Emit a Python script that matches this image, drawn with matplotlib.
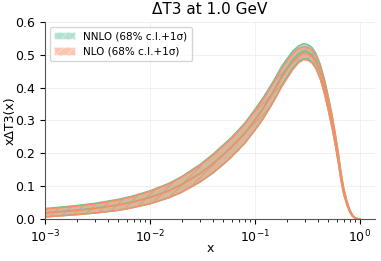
import numpy as np
import matplotlib
matplotlib.use("Agg")
import matplotlib.pyplot as plt
from matplotlib.patches import Patch

x = [0.001, 0.002, 0.003, 0.005, 0.007, 0.01, 0.015, 0.02, 0.03, 0.04, 0.05, 0.06, 0.08,
     0.1, 0.12, 0.15, 0.18, 0.2, 0.23, 0.26, 0.29, 0.32, 0.35, 0.38, 0.42, 0.46, 0.5,
     0.54, 0.58, 0.62, 0.66, 0.7, 0.75, 0.8, 0.85, 0.9, 0.95, 1.0]
nlo_c = [0.018, 0.026, 0.032, 0.042, 0.052, 0.065, 0.085, 0.104, 0.138, 0.168, 0.195, 0.218, 0.26,
         0.300, 0.335, 0.385, 0.43, 0.452, 0.48, 0.497, 0.505, 0.503, 0.495, 0.478, 0.445, 0.40, 0.35,
         0.30, 0.245, 0.19, 0.13, 0.085, 0.05, 0.025, 0.01, 0.003, 0.001, 0.0]
nlo_e = [0.012, 0.013, 0.014, 0.016, 0.017, 0.019, 0.021, 0.023, 0.025, 0.027, 0.028, 0.028, 0.029,
         0.030, 0.030, 0.029, 0.028, 0.027, 0.025, 0.022, 0.020, 0.020, 0.020, 0.020, 0.020, 0.020, 0.020,
         0.019, 0.017, 0.015, 0.012, 0.009, 0.006, 0.004, 0.002, 0.001, 0.0, 0.0]
nnlo_c = [0.019, 0.027, 0.033, 0.043, 0.053, 0.066, 0.086, 0.105, 0.139, 0.169, 0.196, 0.219, 0.261,
          0.302, 0.338, 0.389, 0.435, 0.458, 0.486, 0.503, 0.511, 0.509, 0.500, 0.483, 0.449, 0.404, 0.353,
          0.302, 0.247, 0.191, 0.131, 0.086, 0.05, 0.025, 0.01, 0.003, 0.001, 0.0]
nnlo_e = [0.013, 0.014, 0.015, 0.017, 0.018, 0.020, 0.022, 0.024, 0.027, 0.029, 0.030, 0.030, 0.031,
          0.032, 0.032, 0.031, 0.030, 0.028, 0.026, 0.024, 0.023, 0.022, 0.022, 0.022, 0.022, 0.022, 0.021,
          0.020, 0.018, 0.016, 0.013, 0.010, 0.007, 0.004, 0.002, 0.001, 0.0, 0.0]

labels = ["NNLO (68% c.l.+1σ)", "NLO (68% c.l.+1σ)"]
colors = ["#66c2a5", "#fc8d62"]

plt.rcParams['font.family'] = ['DejaVu Sans']
plt.rcParams['hatch.color'] = 'white'
plt.rcParams['hatch.linewidth'] = 0.6

fig = plt.figure(figsize=(3.81, 2.61), dpi=100)
ax = fig.add_axes([0.118, 0.161, 0.866, 0.755])

xa = np.array(x)
handles = []
for c, e, col, lab in [(nnlo_c, nnlo_e, colors[0], labels[0]), (nlo_c, nlo_e, colors[1], labels[1])]:
    c = np.array(c); e = np.array(e)
    ax.fill_between(xa, c - e, c + e, facecolor=col, alpha=0.5, hatch='///', edgecolor=col, linewidth=0)
    ax.plot(xa, c + e, color=col, lw=1.0)
    ax.plot(xa, c - e, color=col, lw=1.0)
    ax.plot(xa, c, color=col, lw=1.0)
    handles.append(Patch(facecolor=col, alpha=0.5, hatch='///', edgecolor='white', linestyle='--', label=lab))

ax.set_xscale('log')
ax.set_xlim(1e-3, 1.39)
ax.set_ylim(0, 0.6)
ax.set_title("ΔT3 at 1.0 GeV", fontsize=11)
ax.set_xlabel("x", fontsize=9)
ax.set_ylabel("xΔT3(x)", fontsize=9)
ax.xaxis.set_label_coords(0.5, -0.115)
ax.yaxis.set_label_coords(-0.085, 0.5)
ax.tick_params(labelsize=9)
ax.grid(True, color='#eeeeee', lw=0.6)
ax.set_axisbelow(True)
for s in ['top', 'right']:
    ax.spines[s].set_visible(False)
for s in ['left', 'bottom']:
    ax.spines[s].set_color('#555555')
ax.legend(handles=handles, loc='upper left', fontsize=7.5, frameon=True, framealpha=0.8)

fig.savefig("out.png", dpi=100)
